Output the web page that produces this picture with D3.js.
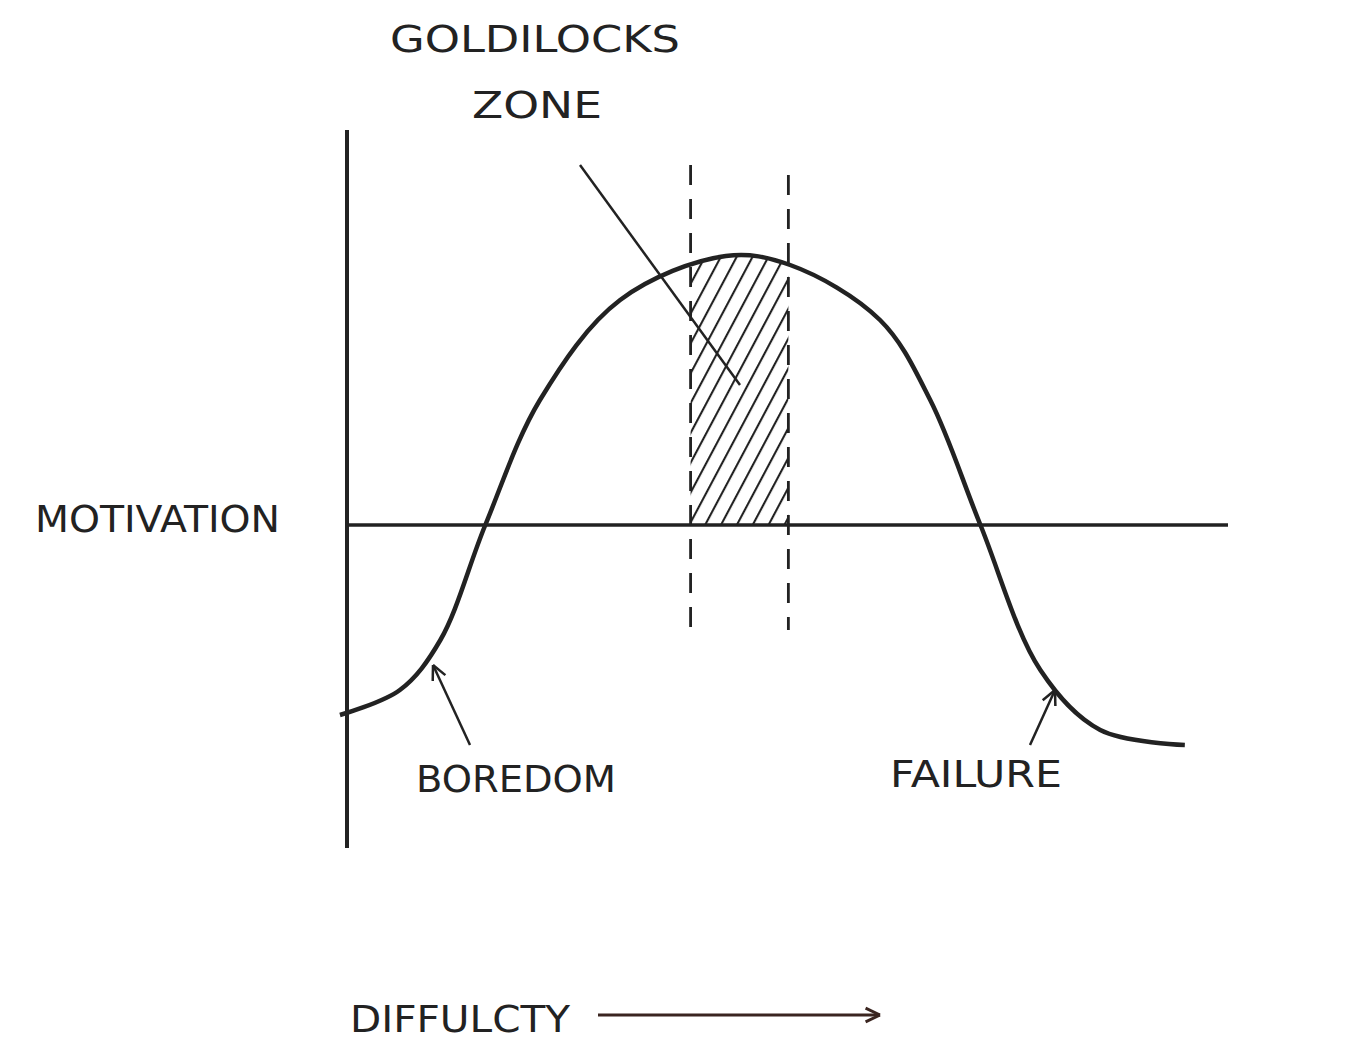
<!DOCTYPE html>
<html><head><meta charset="utf-8">
<script src="https://cdn.jsdelivr.net/npm/d3@7"></script>
<style>body{margin:0;background:#fff}</style></head>
<body><svg id="c" width="1356" height="1058"></svg>
<script>
const curveX = [-0.8, 6.0, 10.6, 15.7, 21.9, 31.0, 43.0, 50.3, 60.5, 66.2, 71.9, 78.7, 85.5, 95.1];
const curveY = [-1.9, -1.65, -1.15, 0, 1.25, 2.25, 2.69, 2.60, 2.05, 1.25, 0, -1.45, -2.05, -2.2];
const zoneBounds = [39.0, 50.1];
const labels = ["GOLDILOCKS", "ZONE", "MOTIVATION", "BOREDOM", "FAILURE", "DIFFULCTY"];

const svg = d3.select("#c");
const x = d3.scaleLinear().domain([0, 100]).range([347, 1228]);
const y = d3.scaleLinear().domain([-3.25, 3.95]).range([850, 130]);
const ink = "#222";
const pts = curveX.map((v, i) => [v, curveY[i]]);

const defs = svg.append("defs");
const pat = defs.append("pattern").attr("id", "hatch").attr("patternUnits", "userSpaceOnUse")
  .attr("width", 14).attr("height", 14).attr("patternTransform", "rotate(28)");
pat.append("line").attr("x1", 1).attr("y1", 0).attr("x2", 1).attr("y2", 14).attr("stroke", ink).attr("stroke-width", 2.2);
defs.append("clipPath").attr("id", "zc").append("rect")
  .attr("x", x(zoneBounds[0])).attr("y", 0).attr("width", x(zoneBounds[1]) - x(zoneBounds[0])).attr("height", 1058);
const area = d3.area().x(d => x(d[0])).y0(y(0)).y1(d => y(d[1])).curve(d3.curveCatmullRom);
svg.append("path").datum(pts).attr("d", area).attr("fill", "url(#hatch)").attr("clip-path", "url(#zc)");

svg.append("line").attr("x1", x(0)).attr("x2", x(0)).attr("y1", y(3.95)).attr("y2", y(-3.23))
  .attr("stroke", ink).attr("stroke-width", 4);
svg.append("line").attr("x1", x(0)).attr("x2", x(100)).attr("y1", y(0)).attr("y2", y(0))
  .attr("stroke", ink).attr("stroke-width", 3.5);

[[zoneBounds[0], 3.6, -1.1], [zoneBounds[1], 3.5, -1.05]].forEach(d => {
  svg.append("line").attr("x1", x(d[0])).attr("x2", x(d[0])).attr("y1", y(d[1])).attr("y2", y(d[2]))
    .attr("stroke", ink).attr("stroke-width", 2.8).attr("stroke-dasharray", "20,14");
});

const line = d3.line().x(d => x(d[0])).y(d => y(d[1])).curve(d3.curveCatmullRom);
svg.append("path").datum(pts).attr("d", line).attr("fill", "none").attr("stroke", ink).attr("stroke-width", 4.5);

svg.append("line").attr("x1", 580).attr("y1", 165).attr("x2", 740).attr("y2", 385).attr("stroke", ink).attr("stroke-width", 2.5);

function arrow(x1, y1, x2, y2, col, w) {
  svg.append("line").attr("x1", x1).attr("y1", y1).attr("x2", x2).attr("y2", y2).attr("stroke", col).attr("stroke-width", w);
  const a = Math.atan2(y2 - y1, x2 - x1), L = 16;
  [0.45, -0.45].forEach(o => svg.append("line").attr("x1", x2).attr("y1", y2)
    .attr("x2", x2 - L * Math.cos(a + o)).attr("y2", y2 - L * Math.sin(a + o)).attr("stroke", col).attr("stroke-width", w));
}
arrow(470, 745, 433, 665, ink, 2.5);
arrow(1030, 745, 1055, 690, ink, 2.5);
arrow(598, 1015, 880, 1015, "#3a2520", 3);

const T = [[labels[0], 390, 52, 290], [labels[1], 472, 118, 130], [labels[2], 35, 532, 245],
           [labels[3], 416, 792, 200], [labels[4], 890, 787, 172], [labels[5], 350, 1032, 220]];
T.forEach(t => svg.append("text").text(t[0]).attr("x", t[1]).attr("y", t[2])
  .attr("textLength", t[3]).attr("lengthAdjust", "spacingAndGlyphs")
  .attr("font-family", "DejaVu Sans").attr("font-size", 38).attr("fill", ink));
</script></body></html>
